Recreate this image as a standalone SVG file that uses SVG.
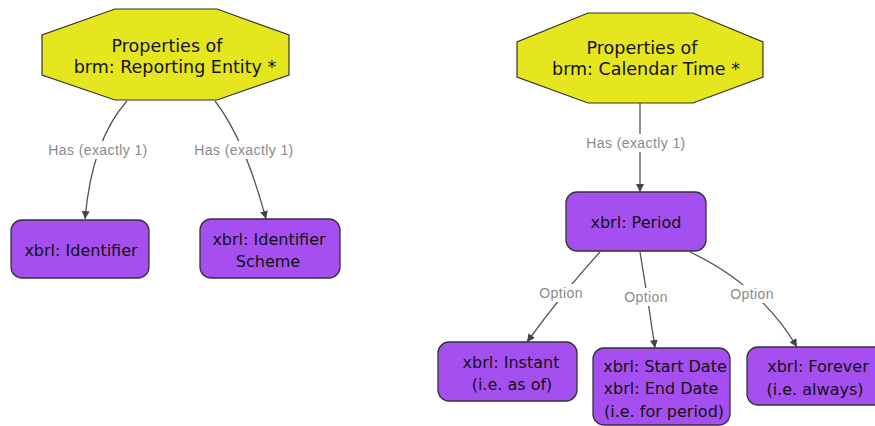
<svg xmlns="http://www.w3.org/2000/svg" width="875" height="426" viewBox="0 0 875 426">
  <style>
    .hdr { fill: #e6e61f; stroke: #333; stroke-width: 1.2; }
    .box { fill: #a64ff0; stroke: #333; stroke-width: 1.3; }
    .ht { font-family: "DejaVu Sans", sans-serif; font-size: 17.5px; fill: #111; text-anchor: middle; }
    .nt { font-family: "DejaVu Sans", sans-serif; font-size: 16px; fill: #111; text-anchor: middle; }
    .edge { fill: none; stroke: #555; stroke-width: 1.3; marker-end: url(#arrow); }
    .lbg { fill: #fff; }
    .lt { font-family: "Liberation Sans", sans-serif; font-size: 14px; letter-spacing: 0.4px; fill: #8a8a8a; text-anchor: middle; }
  </style>
  <defs>
    <marker id="arrow" markerWidth="9" markerHeight="9" refX="8" refY="4" orient="auto" markerUnits="userSpaceOnUse">
      <path d="M0,0 L8,4 L0,8 z" fill="#444"/>
    </marker>
  </defs>
  <rect width="875" height="426" fill="#fff"/>

  <!-- connectors -->
  <g id="connectors">
    <path class="edge" d="M127,101 Q92,140 85,219"/>
    <path class="edge" d="M215,101 Q245,140 266,219"/>
    <path class="edge" d="M640,103 L640,192"/>
    <path class="edge" d="M600,252 Q565,290 527,342"/>
    <path class="edge" d="M640,252 Q648,300 655,348"/>
    <path class="edge" d="M690,252 Q760,285 797,347"/>

    <rect class="lbg" x="45" y="141" width="106" height="18"/>
    <text class="lt" x="98" y="155">Has (exactly 1)</text>
    <rect class="lbg" x="191" y="141" width="106" height="18"/>
    <text class="lt" x="244" y="155">Has (exactly 1)</text>
    <rect class="lbg" x="583" y="134" width="106" height="18"/>
    <text class="lt" x="636" y="148">Has (exactly 1)</text>

    <rect class="lbg" x="535" y="284" width="52" height="18"/>
    <text class="lt" x="561" y="298">Option</text>
    <rect class="lbg" x="620" y="288" width="52" height="18"/>
    <text class="lt" x="646" y="302">Option</text>
    <rect class="lbg" x="726" y="285" width="52" height="18"/>
    <text class="lt" x="752" y="299">Option</text>
  </g>

  <!-- header octagons -->
  <g id="reporting-entity">
    <polygon class="hdr" points="115,9 217,9 289,35 289,75 217,100 115,100 42,75 42,35"/>
    <text class="ht" x="167" y="52">Properties of</text>
    <text class="ht" x="175" y="73">brm: Reporting Entity *</text>
  </g>
  <g id="calendar-time">
    <polygon class="hdr" points="588,13 693,13 763,42 763,77 693,103 588,103 517,77 517,42"/>
    <text class="ht" x="642" y="54">Properties of</text>
    <text class="ht" x="646" y="75">brm: Calendar Time *</text>
  </g>

  <!-- element nodes -->
  <g id="identifier">
    <rect class="box" x="11" y="220" width="138" height="58" rx="11"/>
    <text class="nt" x="81" y="256">xbrl: Identifier</text>
  </g>
  <g id="identifier-scheme">
    <rect class="box" x="200" y="219" width="140" height="59" rx="11"/>
    <text class="nt" x="269" y="245">xbrl: Identifier</text>
    <text class="nt" x="268" y="267">Scheme</text>
  </g>
  <g id="period">
    <rect class="box" x="566" y="192" width="140" height="59" rx="11"/>
    <text class="nt" x="636" y="228">xbrl: Period</text>
  </g>
  <g id="instant">
    <rect class="box" x="438" y="342" width="139" height="59" rx="11"/>
    <text class="nt" x="511" y="368">xbrl: Instant</text>
    <text class="nt" x="512" y="390">(i.e. as of)</text>
  </g>
  <g id="duration">
    <rect class="box" x="593" y="348" width="137" height="77" rx="11"/>
    <text class="nt" x="665" y="372">xbrl: Start Date</text>
    <text class="nt" x="661" y="394">xbrl: End Date</text>
    <text class="nt" x="664" y="417">(i.e. for period)</text>
  </g>
  <g id="forever">
    <rect class="box" x="747" y="347" width="140" height="58" rx="11"/>
    <text class="nt" x="818" y="372">xbrl: Forever</text>
    <text class="nt" x="815" y="395">(i.e. always)</text>
  </g>
</svg>
